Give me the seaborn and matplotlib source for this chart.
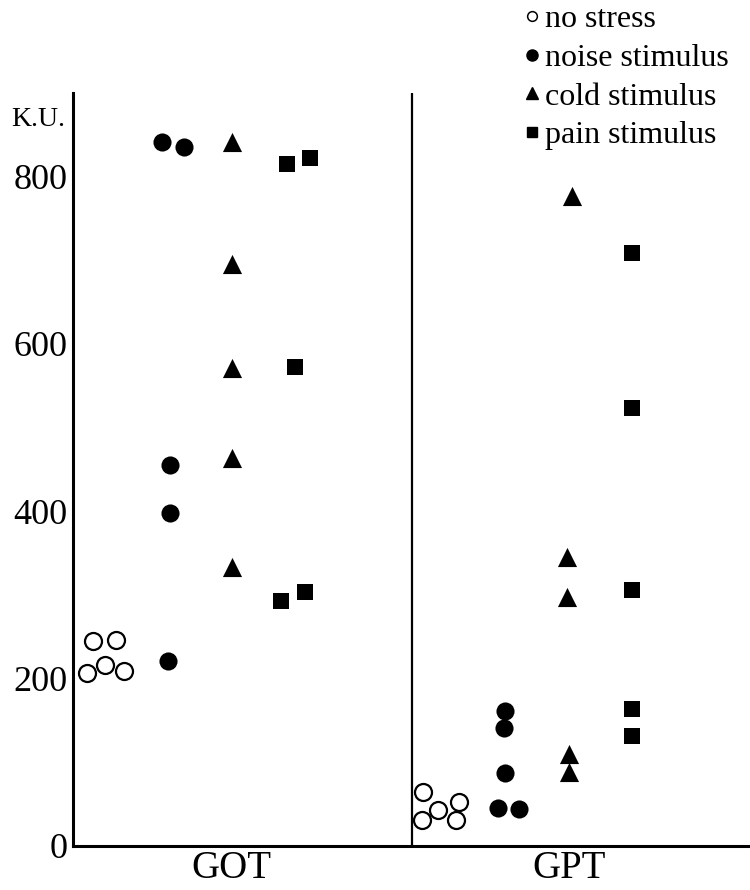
import numpy as np
import pandas as pd
import matplotlib
matplotlib.use("Agg")
import matplotlib.pyplot as plt
import seaborn as sns
from matplotlib.lines import Line2D

# ---------------- data ----------------
enzymes = ["GOT", "GPT"]
conditions = ["no stress", "noise stimulus", "cold stimulus", "pain stimulus"]

got_no_stress = [245, 246, 207, 216, 209]
got_noise = [841, 835, 455, 398, 221]
got_cold = [841, 696, 571, 464, 334]
got_pain = [815, 822, 572, 293, 304]

gpt_no_stress = [65, 43, 53, 31, 31]
gpt_noise = [161, 141, 87, 45, 44]
gpt_cold = [777, 346, 298, 110, 89]
gpt_pain = [709, 523, 306, 164, 132]

y_ticks = [0, 200, 400, 600, 800]
y_label = "K.U."

# ---------------- layout (horizontal placement, in pixel-like units) ----------------
group_centers = {
    ("GOT", "no stress"): 32, ("GOT", "noise stimulus"): 97,
    ("GOT", "cold stimulus"): 159, ("GOT", "pain stimulus"): 222,
    ("GPT", "no stress"): 367, ("GPT", "noise stimulus"): 432,
    ("GPT", "cold stimulus"): 496, ("GPT", "pain stimulus"): 559,
}
point_offsets = {
    ("GOT", "no stress"): [-12, 11, -18, 0, 19],
    ("GOT", "noise stimulus"): [-8, 14, 0, 0, -2],
    ("GOT", "cold stimulus"): [0, 0, 0, 0, 0],
    ("GOT", "pain stimulus"): [-8, 15, 0, -14, 10],
    ("GPT", "no stress"): [-17, -2, 19, -18, 16],
    ("GPT", "noise stimulus"): [0, -1, 0, -7, 14],
    ("GPT", "cold stimulus"): [3, -2, -2, 0, 0],
    ("GPT", "pain stimulus"): [0, 0, 0, 0, 0],
}
values = {
    ("GOT", "no stress"): got_no_stress, ("GOT", "noise stimulus"): got_noise,
    ("GOT", "cold stimulus"): got_cold, ("GOT", "pain stimulus"): got_pain,
    ("GPT", "no stress"): gpt_no_stress, ("GPT", "noise stimulus"): gpt_noise,
    ("GPT", "cold stimulus"): gpt_cold, ("GPT", "pain stimulus"): gpt_pain,
}

rows = []
for key, vals in values.items():
    for v, off in zip(vals, point_offsets[key]):
        rows.append({"enzyme": key[0], "condition": key[1], "value": v,
                     "x": group_centers[key] + off})
df = pd.DataFrame(rows)

# ---------------- plot ----------------
sns.set_style("white")
plt.rcParams["font.family"] = ["Liberation Serif", "DejaVu Serif"]
plt.rcParams["text.color"] = "black"
plt.rcParams["axes.labelcolor"] = "black"
plt.rcParams["xtick.color"] = "black"
plt.rcParams["ytick.color"] = "black"

fig = plt.figure(figsize=(7.5, 8.9), dpi=100)
ax = fig.add_axes([73 / 750, 1 - 846 / 890, 677 / 750, (846 - 93) / 890])

styles = {
    "no stress": dict(marker="o", s=150, facecolor="white", edgecolor="black", linewidth=1.6),
    "noise stimulus": dict(marker="o", s=170, facecolor="black", edgecolor="black", linewidth=0),
    "cold stimulus": dict(marker="^", s=190, facecolor="black", edgecolor="black", linewidth=0),
    "pain stimulus": dict(marker="s", s=120, facecolor="black", edgecolor="black", linewidth=0),
}
for cond in conditions:
    sub = df[df["condition"] == cond]
    st = styles[cond]
    sns.scatterplot(data=sub, x="x", y="value", ax=ax, marker=st["marker"], s=st["s"],
                    color=st["facecolor"], edgecolor=st["edgecolor"],
                    linewidth=st["linewidth"], legend=False, zorder=3)

ax.set_xlim(0, 677)
ax.set_ylim(0, 900)
ax.axvline(339, color="black", lw=1.6, zorder=2)

for s in ["top", "right"]:
    ax.spines[s].set_visible(False)
for s in ["left", "bottom"]:
    ax.spines[s].set_linewidth(2.2)
    ax.spines[s].set_color("black")

ax.set_yticks(y_ticks)
ax.set_yticklabels([str(t) for t in y_ticks], fontsize=26)
ax.tick_params(axis="y", direction="in", length=9, width=1.0, pad=4, colors="black")
ax.set_xticks([158, 496])
ax.set_xticklabels(enzymes, fontsize=28)
ax.tick_params(axis="x", length=0, pad=3, colors="black")
ax.set_xlabel("")
ax.set_ylabel("")

fig.text(11 / 750, 1 - 119 / 890, y_label, fontsize=20, va="center", ha="left", color="black")

# legend
handles = [
    Line2D([], [], ls="", marker="o", ms=7, mfc="white", mec="black", mew=1.1),
    Line2D([], [], ls="", marker="o", ms=8, mfc="black", mec="black"),
    Line2D([], [], ls="", marker="^", ms=8.5, mfc="black", mec="black"),
    Line2D([], [], ls="", marker="s", ms=6.8, mfc="black", mec="black"),
]
leg = fig.legend(handles, conditions, loc="upper left", bbox_to_anchor=(524 / 750, 1 - 5 / 890),
                 frameon=False, prop={"family": "Liberation Serif", "size": 23},
                 handlelength=0.5, handletextpad=0.15, labelspacing=0.29, borderpad=0,
                 borderaxespad=0, labelcolor="black")

fig.savefig("out.png", dpi=100)
